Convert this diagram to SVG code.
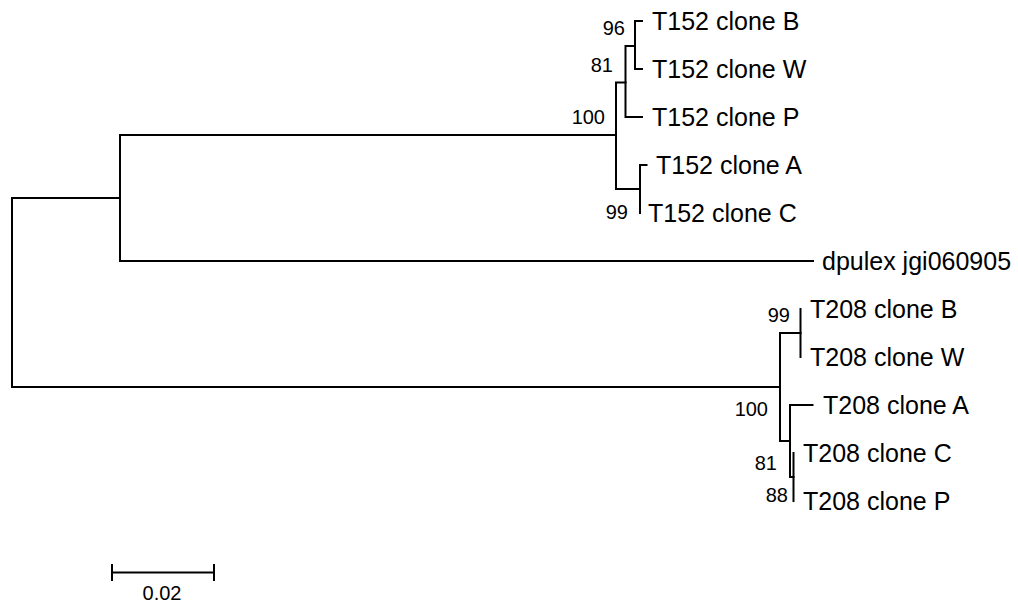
<svg xmlns="http://www.w3.org/2000/svg" width="1018" height="604" viewBox="0 0 1018 604">
<style>
.br{fill:none;stroke:#000;stroke-width:2;stroke-linecap:square}
.leaf{font-family:"Liberation Sans",Arial,sans-serif;font-size:25px;fill:#000}
.bs{font-family:"Liberation Sans",Arial,sans-serif;font-size:20px;fill:#000;text-anchor:end}
.sc{font-family:"Liberation Sans",Arial,sans-serif;font-size:20px;fill:#000;text-anchor:middle}
</style>
<rect width="1018" height="604" fill="#fff"/>
<g id="connectors" class="br">
<path d="M120,198 H12 V387 H780"/>
<path d="M616,135 H120 V261 H813"/>
<path d="M625.5,82.5 H616 V189 H640"/>
<path d="M635,46 H625.5 V117 H642"/>
<path d="M642,21 H635 V69 H642"/>
<path d="M646.5,165 H640 V213"/>
<path d="M800.5,333 H780 V441 H790"/>
<path d="M800.5,309 V357"/>
<path d="M812.5,405 H790 V477 H793.5"/>
<path d="M793.5,453 V501"/>
</g>
<g id="leaf-T152-B"><text class="leaf" x="652" y="29.5">T152 clone B</text></g>
<g id="leaf-T152-W"><text class="leaf" x="652" y="77.5">T152 clone W</text></g>
<g id="leaf-T152-P"><text class="leaf" x="652" y="125.5">T152 clone P</text></g>
<g id="leaf-T152-A"><text class="leaf" x="656" y="173.5">T152 clone A</text></g>
<g id="leaf-T152-C"><text class="leaf" x="648" y="221.5">T152 clone C</text></g>
<g id="leaf-dpulex"><text class="leaf" x="822" y="269.5">dpulex jgi060905</text></g>
<g id="leaf-T208-B"><text class="leaf" x="810" y="317.5">T208 clone B</text></g>
<g id="leaf-T208-W"><text class="leaf" x="810" y="365.5">T208 clone W</text></g>
<g id="leaf-T208-A"><text class="leaf" x="823" y="413.5">T208 clone A</text></g>
<g id="leaf-T208-C"><text class="leaf" x="803" y="461.5">T208 clone C</text></g>
<g id="leaf-T208-P"><text class="leaf" x="803" y="509.5">T208 clone P</text></g>
<g id="node-96"><text class="bs" x="625" y="35">96</text></g>
<g id="node-81a"><text class="bs" x="613" y="71.5">81</text></g>
<g id="node-100a"><text class="bs" x="605" y="124">100</text></g>
<g id="node-99a"><text class="bs" x="628" y="219">99</text></g>
<g id="node-99b"><text class="bs" x="790" y="322">99</text></g>
<g id="node-100b"><text class="bs" x="768" y="416">100</text></g>
<g id="node-81b"><text class="bs" x="777" y="470">81</text></g>
<g id="node-88"><text class="bs" x="788" y="501.5">88</text></g>
<g id="scale">
<path class="br" d="M112,572.5 H214 M112,565 V580 M214,565 V580"/>
<text class="sc" x="162" y="600">0.02</text>
</g>
</svg>
